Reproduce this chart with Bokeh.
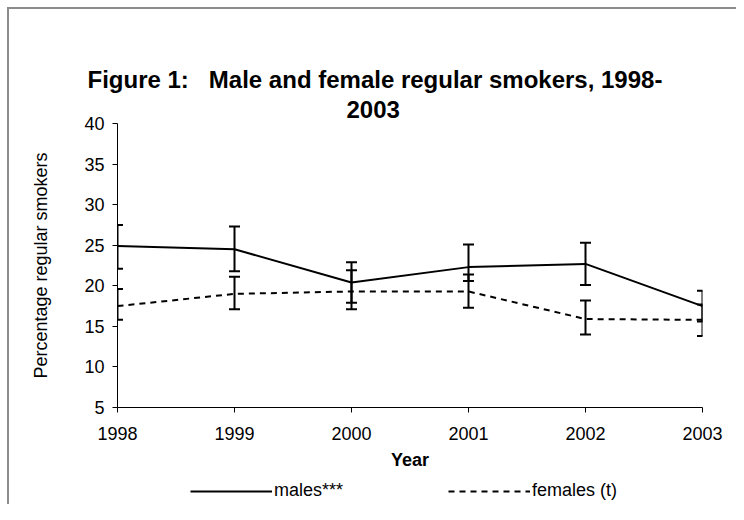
from bokeh.plotting import figure
from bokeh.models import (ColumnDataSource, Whisker, TeeHead, Range1d, Title,
                          Legend, LegendItem, FixedTicker)
from bokeh.layouts import column
from bokeh.embed import file_html
from bokeh.resources import INLINE

years = [1998, 1999, 2000, 2001, 2002, 2003]
males = [24.9, 24.5, 20.4, 22.3, 22.7, 17.5]
males_lower = [22.1, 21.8, 17.9, 20.6, 20.1, 15.6]
males_upper = [27.5, 27.3, 22.9, 25.1, 25.3, 19.4]
females = [17.5, 19.0, 19.3, 19.3, 15.9, 15.8]
females_lower = [15.8, 17.1, 17.1, 17.3, 14.0, 13.8]
females_upper = [19.6, 21.1, 21.9, 21.4, 18.2, 17.7]
y_ticks = [5, 10, 15, 20, 25, 30, 35, 40]
title_lines = ["Figure 1:\u00a0\u00a0\u00a0Male and female regular smokers, 1998-", "2003"]
series_labels = ["males***", "females (t)"]

FONT = "Liberation Sans"
GRAY = "#8c8c8c"

p = figure(frame_width=585, frame_height=284, output_backend="svg", toolbar_location=None,
           x_range=Range1d(1998, 2003), y_range=Range1d(5, 40),
           min_border_left=117, min_border_right=34,
           min_border_top=123, min_border_bottom=70)
p.border_fill_color = None
p.styles = {"background": f"linear-gradient({GRAY},{GRAY}) 7px 7px / 2px 100% no-repeat, "
                          f"linear-gradient({GRAY},{GRAY}) 7px 7px / 100% 2px no-repeat, white"}

p.add_layout(Title(text=title_lines[1], align="left", text_font=FONT, text_color="black",
                   text_font_size="24px", text_font_style="bold", offset=229, standoff=12), "above")
p.add_layout(Title(text=title_lines[0], align="left", text_color="black",
                   text_font=FONT, text_font_size="24px", text_font_style="bold", offset=-30,
                   standoff=0), "above")

p.grid.visible = False
p.outline_line_color = None
p.background_fill_color = "white"

msrc = ColumnDataSource(dict(x=years, y=males, lo=males_lower, hi=males_upper))
fsrc = ColumnDataSource(dict(x=years, y=females, lo=females_lower, hi=females_upper))

p.line("x", "y", source=msrc, line_color="black", line_width=2)
p.line("x", "y", source=fsrc, line_color="black", line_width=2, line_dash="6 5")

for src in (msrc, fsrc):
    w = Whisker(base="x", lower="lo", upper="hi", source=src, line_color="black", line_width=2,
                upper_head=TeeHead(size=11, line_width=2, line_color="black"),
                lower_head=TeeHead(size=11, line_width=2, line_color="black"))
    p.add_layout(w)

p.xaxis.ticker = FixedTicker(ticks=years)
p.yaxis.ticker = FixedTicker(ticks=y_ticks)
for ax in (p.xaxis, p.yaxis):
    ax.minor_tick_line_color = None
    ax.major_tick_out = 5
    ax.major_tick_in = 0
    ax.axis_line_color = "black"
    ax.major_tick_line_color = "black"
    ax.major_label_text_font = FONT
    ax.major_label_text_font_size = "18px"
    ax.major_label_text_color = "black"
    ax.axis_label_text_font = FONT
    ax.axis_label_text_color = "black"
    ax.axis_label_text_font_size = "18px"

p.xaxis.axis_label = "Year"
p.xaxis.axis_label_text_font_style = "bold"
p.xaxis.major_label_standoff = 14
p.xaxis.axis_label_standoff = 7
p.yaxis.axis_label = "Percentage regular smokers"
p.yaxis.axis_label_text_font_style = "normal"
p.yaxis.major_label_standoff = 8
p.yaxis.axis_label_standoff = 30

# legend strip below the chart (series drawn out of view, only the legend shows)
p2 = figure(width=736, height=27, output_backend="svg", toolbar_location=None,
            x_range=Range1d(0, 1), y_range=Range1d(0, 1),
            x_axis_type=None, y_axis_type=None, min_border=0)
p2.outline_line_color = None
p2.border_fill_color = None
p2.background_fill_color = None
p2.styles = {"background": f"linear-gradient({GRAY},{GRAY}) 7px 0 / 2px 100% no-repeat, white"}
lm = p2.line("x", "y", source=msrc, line_color="black", line_width=2)
lf = p2.line("x", "y", source=fsrc, line_color="black", line_width=2, line_dash="6 5")
legend = Legend(items=[LegendItem(label=series_labels[0], renderers=[lm]),
                       LegendItem(label=series_labels[1], renderers=[lf])],
                orientation="horizontal", location=(73, 3),
                glyph_width=82, label_standoff=2, spacing=105,
                label_text_font=FONT, label_text_font_size="18px", label_text_color="black",
                border_line_color=None, background_fill_alpha=0, padding=0, margin=0)
p2.add_layout(legend)

layout = column(p, p2, spacing=0)
open("out.html", "w").write(file_html(layout, INLINE))
